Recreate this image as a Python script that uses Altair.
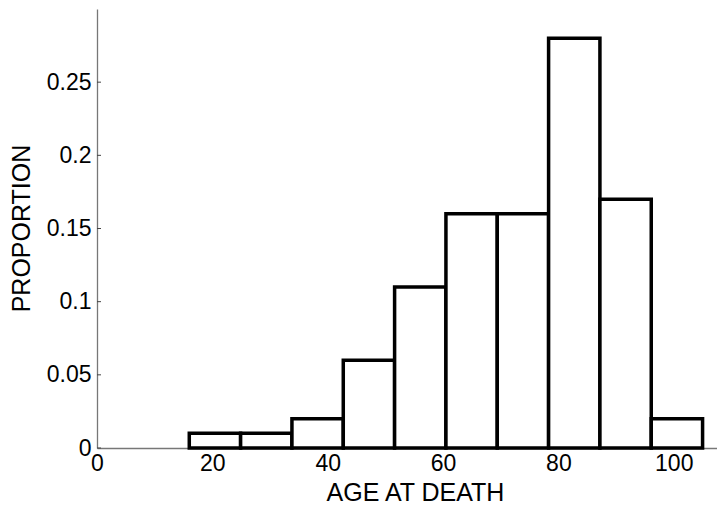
import altair as alt
import pandas as pd

bin_start = [16.0, 24.9, 33.8, 42.7, 51.6, 60.5, 69.4, 78.3, 87.2, 96.1]
bin_end = [24.9, 33.8, 42.7, 51.6, 60.5, 69.4, 78.3, 87.2, 96.1, 105.0]
proportion = [0.01, 0.01, 0.02, 0.06, 0.11, 0.16, 0.16, 0.28, 0.17, 0.02]
x_ticks = [0, 20, 40, 60, 80, 100]
y_ticks = [0, 0.05, 0.1, 0.15, 0.2, 0.25]

bars_df = pd.DataFrame({"start": bin_start, "end": bin_end, "p": proportion, "zero": [0.0] * len(proportion)})
ticks_df = pd.DataFrame({"t": y_ticks})

FONT = "Liberation Sans"

x_scale = alt.Scale(domain=[0, 107.5], nice=False, zero=False)
y_scale = alt.Scale(domain=[0, 0.3], nice=False)

bars = alt.Chart(bars_df).mark_rect(
    fill="white", stroke="black", strokeWidth=3.5, strokeJoin="miter"
).encode(
    x=alt.X("start:Q", scale=x_scale, axis=alt.Axis(
        values=x_ticks, format="d", title="AGE AT DEATH", ticks=False, tickSize=0,
        labelFlush=False, labelPadding=22, labelBaseline="alphabetic",
        labelFontSize=23, labelFont=FONT, labelColor="black",
        titleFontSize=25, titleFont=FONT, titleFontWeight="normal", titleColor="black",
        titleX=318, titleY=52, titleAlign="center", titleBaseline="alphabetic",
        domainColor="#777777", domainWidth=1.3, grid=False, labelOverlap=False,
    )),
    x2="end:Q",
    y=alt.Y("p:Q", scale=y_scale, axis=alt.Axis(
        values=y_ticks, format=".2~f", title="PROPORTION", ticks=False, tickSize=0,
        labelPadding=6, labelFontSize=23, labelFont=FONT, labelColor="black",
        titleFontSize=25, titleFont=FONT, titleFontWeight="normal", titleColor="black",
        titleX=-68, titleY=219, titleAngle=-90, titleAlign="center", titleBaseline="alphabetic",
        domainColor="#777777", domainWidth=1.3, grid=False, labelOverlap=False,
    )),
    y2="zero:Q",
)

yticks = alt.Chart(ticks_df).mark_rule(color="#444444", strokeWidth=1).encode(
    y=alt.Y("t:Q", scale=y_scale),
    x=alt.value(0),
    x2=alt.value(4),
)

chart = alt.layer(yticks, bars).properties(
    width=620,
    height=439,
    autosize=alt.AutoSizeParams(type="none"),
    padding={"left": 89, "top": 1, "right": 0, "bottom": 57},
    background="white",
).configure_view(stroke=None)

chart.save("out.html", embed_options={"renderer": "svg", "actions": False})
